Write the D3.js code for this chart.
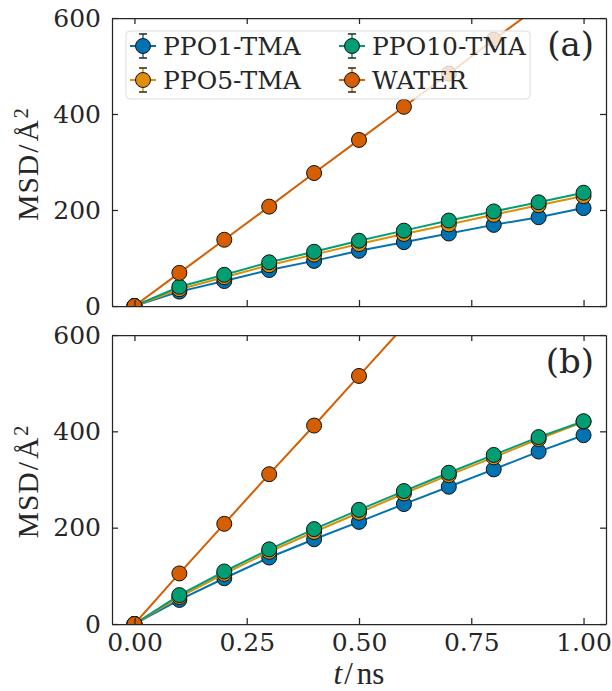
<!DOCTYPE html>
<html>
<head>
<meta charset="utf-8">
<script src="https://cdn.jsdelivr.net/npm/d3@7"></script>
<style>
  html, body { margin: 0; padding: 0; background: #fff; }
  svg { display: block; }
</style>
</head>
<body>
<svg id="chart" width="612" height="691"></svg>
<script>
// Time points (ns)
const times = [0, 0.1, 0.2, 0.3, 0.4, 0.5, 0.6, 0.7, 0.8, 0.9, 1.0];

// Series names
const seriesNames = ["PPO1-TMA", "PPO5-TMA", "PPO10-TMA", "WATER"];

// Panel (a) MSD values (Å^2)
const msdA_PPO1  = [0, 30, 52, 75, 94, 115, 133, 151, 169, 185, 204];
const msdA_PPO5  = [0, 35, 60, 85, 107, 129, 150, 170, 190, 210, 229];
const msdA_PPO10 = [0, 40, 65, 91, 113, 136, 157, 178, 197, 216, 236];
const msdA_WATER = [0, 69, 138, 207, 277, 346, 415, 484, 555, 624, 693];

// Panel (b) MSD values (Å^2)
const msdB_PPO1  = [0, 50, 95, 138, 176, 212, 249, 285, 321, 358, 392];
const msdB_PPO5  = [0, 56, 104, 150, 191, 231, 271, 309, 346, 384, 420];
const msdB_PPO10 = [0, 60, 109, 155, 197, 237, 276, 314, 351, 388, 421];
const msdB_WATER = [0, 105, 208, 311, 412, 515, 618, 720, 823, 925, 1028];

// Axis ticks
const xTicks = [0, 0.25, 0.5, 0.75, 1.0];
const yTicks = [0, 200, 400, 600];
const xDomain = [-0.05, 1.05];
const yDomain = [0, 600];

const colors = ["#0173b2", "#de8f05", "#029e73", "#d55e00"];
const ink = "#262626";
const FONT = "'DejaVu Serif', serif";
const MATH_FONT = "'Liberation Serif', 'DejaVu Serif', serif";

const svg = d3.select("#chart");

const left = 112, right = 606;
const panels = [
  { id: "a", label: "(a)", top: 18, bottom: 306, data: [msdA_PPO1, msdA_PPO5, msdA_PPO10, msdA_WATER], legend: true, xLabels: false },
  { id: "b", label: "(b)", top: 335, bottom: 624, data: [msdB_PPO1, msdB_PPO5, msdB_PPO10, msdB_WATER], legend: false, xLabels: true }
];

const x = d3.scaleLinear().domain(xDomain).range([left, right]);

panels.forEach(p => {
  const y = d3.scaleLinear().domain(yDomain).range([p.bottom, p.top]);
  const g = svg.append("g");

  const clipId = "clip-" + p.id;
  svg.append("clipPath").attr("id", clipId)
    .append("rect").attr("x", left).attr("y", p.top)
    .attr("width", right - left).attr("height", p.bottom - p.top);

  const plot = g.append("g").attr("clip-path", `url(#${clipId})`);
  const line = d3.line().x((d, i) => x(times[i])).y(d => y(d));

  p.data.forEach((vals, si) => {
    const sg = plot.append("g");
    sg.append("path").datum(vals)
      .attr("d", line)
      .attr("fill", "none")
      .attr("stroke", colors[si])
      .attr("stroke-width", 2);
    sg.selectAll("circle").data(vals).join("circle")
      .attr("cx", (d, i) => x(times[i]))
      .attr("cy", d => y(d))
      .attr("r", 7.5)
      .attr("fill", colors[si])
      .attr("stroke", "#111")
      .attr("stroke-width", 1);
  });

  // Axes with inward ticks on all four sides
  const axStyle = sel => {
    sel.selectAll(".domain").attr("stroke", ink).attr("stroke-width", 1.25);
    sel.selectAll(".tick line").attr("stroke", ink).attr("stroke-width", 1.25);
    sel.selectAll(".tick text").attr("fill", ink)
      .style("font-family", FONT).style("font-size", "25px");
  };

  g.append("g").attr("transform", `translate(0,${p.bottom})`)
    .call(d3.axisBottom(x).tickValues(xTicks).tickSizeInner(-6).tickSizeOuter(0).tickPadding(9)
      .tickFormat(p.xLabels ? d3.format(".2f") : () => ""))
    .call(axStyle);
  g.append("g").attr("transform", `translate(0,${p.top})`)
    .call(d3.axisTop(x).tickValues(xTicks).tickSizeInner(-6).tickSizeOuter(0).tickFormat(() => ""))
    .call(axStyle);
  g.append("g").attr("transform", `translate(${left},0)`)
    .call(d3.axisLeft(y).tickValues(yTicks).tickSizeInner(-6).tickSizeOuter(0).tickPadding(11)
      .tickFormat(d3.format("d")))
    .call(axStyle);
  g.append("g").attr("transform", `translate(${right},0)`)
    .call(d3.axisRight(y).tickValues(yTicks).tickSizeInner(-6).tickSizeOuter(0).tickFormat(() => ""))
    .call(axStyle);

  // Y axis label: MSD/Å²
  const yl = g.append("text")
    .attr("transform", `translate(38,${(p.top + p.bottom) / 2 + 2}) rotate(-90)`)
    .attr("text-anchor", "middle")
    .attr("fill", ink)
    .style("font-family", MATH_FONT).style("font-size", "29.5px")
    .style("letter-spacing", "1px");
  yl.append("tspan").text("MSD");
  yl.append("tspan").attr("dx", 1).text("/");
  yl.append("tspan").attr("dx", 2).text("Å");
  yl.append("tspan").attr("dx", 1).attr("dy", "-0.5em").style("font-size", "20px").text("2");

  // Panel tag
  g.append("text")
    .attr("x", 594).attr("y", p.top + 38)
    .attr("text-anchor", "end")
    .attr("fill", ink)
    .style("font-family", FONT).style("font-size", "34px")
    .text(p.label);

  if (p.legend) {
    const lg = g.append("g");
    lg.append("rect")
      .attr("x", 126).attr("y", 31).attr("width", 404).attr("height", 68)
      .attr("rx", 4).attr("ry", 4)
      .attr("fill", "#fff").attr("fill-opacity", 0.8)
      .attr("stroke", "#dcdcdc").attr("stroke-width", 1);
    const pos = [
      { cx: 143, cy: 46, tx: 163 },
      { cx: 143, cy: 80, tx: 163 },
      { cx: 352, cy: 46, tx: 372 },
      { cx: 352, cy: 80, tx: 372 }
    ];
    seriesNames.forEach((name, si) => {
      const q = pos[si];
      const e = lg.append("g");
      e.append("line").attr("x1", q.cx - 13).attr("x2", q.cx + 13)
        .attr("y1", q.cy).attr("y2", q.cy)
        .attr("stroke", colors[si]).attr("stroke-width", 2);
      e.append("line").attr("x1", q.cx).attr("x2", q.cx)
        .attr("y1", q.cy - 12).attr("y2", q.cy + 12)
        .attr("stroke", colors[si]).attr("stroke-width", 1.5);
      [-12, 12].forEach(dy => {
        e.append("line").attr("x1", q.cx - 4).attr("x2", q.cx + 4)
          .attr("y1", q.cy + dy).attr("y2", q.cy + dy)
          .attr("stroke", ink).attr("stroke-width", 1.5);
      });
      e.append("circle").attr("cx", q.cx).attr("cy", q.cy).attr("r", 7.5)
        .attr("fill", colors[si]).attr("stroke", "#111").attr("stroke-width", 1);
      e.append("text").attr("x", q.tx).attr("y", q.cy + 9)
        .attr("fill", ink)
        .style("font-family", FONT).style("font-size", "25px")
        .text(name);
    });
  }
});

// X axis label: t/ns
const xl = svg.append("text")
  .attr("x", (left + right) / 2).attr("y", 684)
  .attr("text-anchor", "middle")
  .attr("fill", ink)
  .style("font-family", MATH_FONT).style("font-size", "31px");
xl.append("tspan").style("font-style", "italic").text("t");
xl.append("tspan").attr("dx", 2).text("/");
xl.append("tspan").attr("dx", 4).text("ns");
</script>
</body>
</html>
